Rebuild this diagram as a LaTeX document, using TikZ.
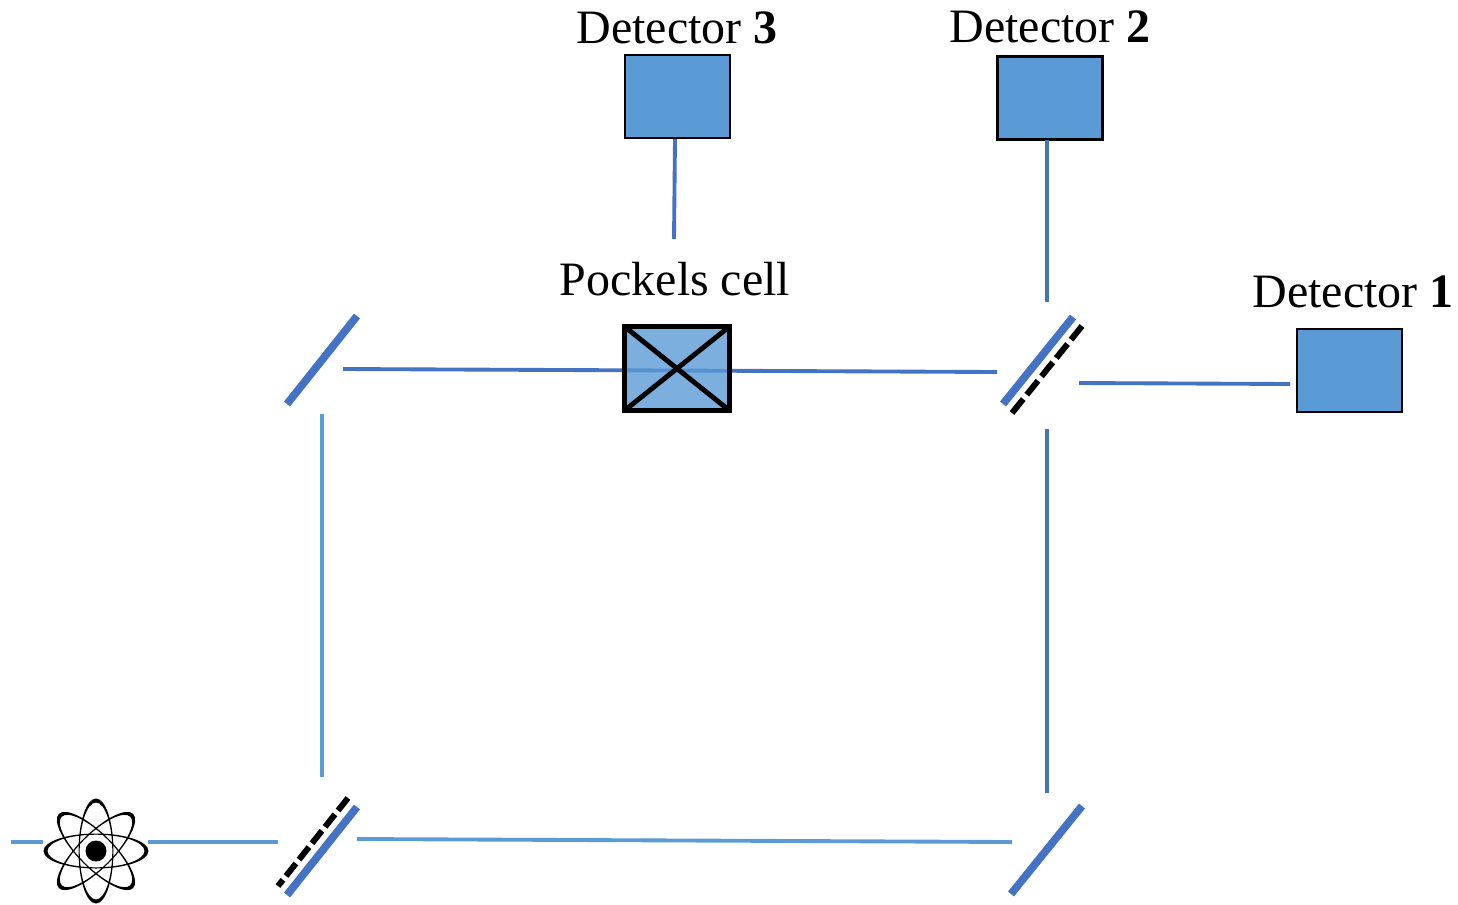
\documentclass[tikz,border=0pt]{standalone}
\usepackage{fontspec}
\setmainfont{Liberation Serif}
\usepackage{tikz}

\tikzset{
	beam/.style={draw=beamblue, line width=2.2pt},
	sourcebeam/.style={draw=sourceblue, line width=2.2pt},
	mirror/.style={draw=beamblue, line width=4.4pt},
	halfmirror/.style={draw=black, line width=3.4pt, dash pattern=on 9.07pt off 2.83pt},
	detector/.style={draw=black, fill=sourceblue, line width=1.4pt, minimum width=2.1cm, minimum height=1.66cm, inner sep=0pt, outer sep=0pt},
	cell/.style={draw=black, fill=sourceblue, fill opacity=0.8, line width=2.9pt, minimum width=2.1cm, minimum height=1.68cm, inner sep=0pt, outer sep=0pt},
	caption/.style={font=\fontsize{27.3}{30}\selectfont, inner sep=0pt}
}
\definecolor{beamblue}{HTML}{4472C4}
\definecolor{sourceblue}{HTML}{5B9BD5}

\begin{document}
\begin{tikzpicture}[x=0.02cm, y=-0.02cm]
	\useasboundingbox (0,0) rectangle (1458,904);

	\coordinate (inL) at (11,842);
	\coordinate (inA) at (43,842);
	\coordinate (outA) at (148,842);
	\coordinate (inB) at (278,842);
	\coordinate (outBu) at (322,777);
	\coordinate (inM) at (322,414);
	\coordinate (outM) at (343,369);
	\coordinate (inC) at (997,372);
	\coordinate (outBr) at (357,839);
	\coordinate (inN) at (1012,842);
	\coordinate (outN) at (1047,793);
	\coordinate (inCd) at (1047,429);
	\coordinate (outCu) at (1047,302);
	\coordinate (inD2) at (1047,140);
	\coordinate (outCr) at (1079,383);
	\coordinate (inD1) at (1290,384);
	\coordinate (inD3) at (675,139);
	\coordinate (outCell) at (674,239);

	\draw[beam] (outM) -- (inC);
	\node[detector] (det3) at (677.5,96.5) {};
	\node[detector] (det2) at (1050,98) {};
	\node[detector] (det1) at (1349.5,370.5) {};
	\node[cell] (pockels) at (677,368.5) {};
	\draw[line width=2.8pt] (pockels.north west) -- (pockels.south east);
	\draw[line width=2.8pt] (pockels.south west) -- (pockels.north east);

	\node[caption] (label3) at (677,28) {Detector \textbf{3}};
	\node[caption] (label2) at (1050,27) {Detector \textbf{2}};
	\node[caption] (label1) at (1353,292) {Detector \textbf{1}};
	\node[caption] (labelcell) at (675,279.5) {Pockels cell};

	\draw[sourcebeam] (inL) -- (inA);
	\draw[sourcebeam] (outA) -- (inB);
	\draw[sourcebeam] (outBu) -- (inM);
	\draw[sourcebeam] (outBr) -- (inN);
	\draw[beam] (outN) -- (inCd);
	\draw[beam] (outCu) -- (inD2);
	\draw[beam] (outCr) -- (inD1);
	\draw[beam] (inD3) -- (outCell);

	\draw[mirror] (287,404) -- (357,316);
	\draw[mirror] (1011,894) -- (1082,806);
	\draw[mirror] (1003,404) -- (1073,317);
	\draw[halfmirror, dash pattern=on 10.2pt off 3.2pt] (1012,413) -- (1082,326);
	\draw[mirror] (287,895) -- (357,807);
	\draw[halfmirror] (348,798) -- (278,886);

	\foreach \ang in {0,45,90,135} {
		\fill[black, even odd rule, shift={(96,851)}, rotate=\ang]
			(0,0) ellipse [x radius=52.5, y radius=17.5]
			(0,0) ellipse [x radius=48.5, y radius=16.3];
	}
	\node[circle, fill=black, minimum size=0.42cm, inner sep=0pt] (nucleus) at (96,851) {};
\end{tikzpicture}
\end{document}
